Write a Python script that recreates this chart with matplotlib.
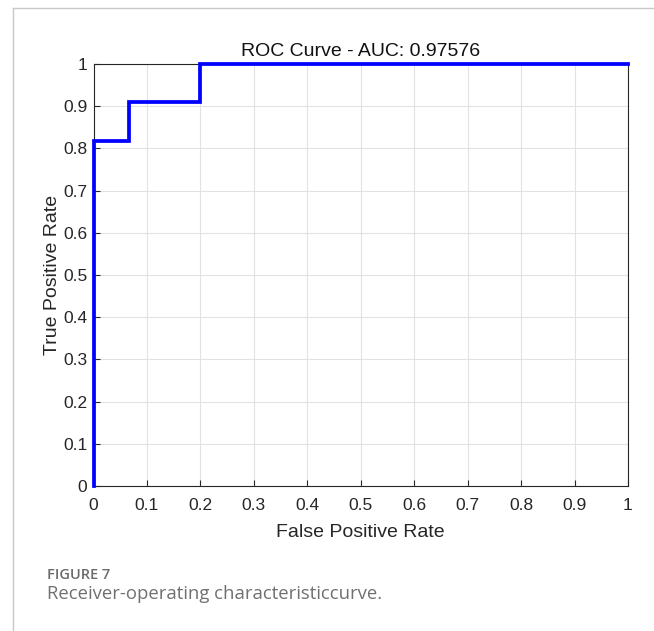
import numpy as np
import matplotlib
matplotlib.use("Agg")
import matplotlib.pyplot as plt
import matplotlib.lines as lines

# ROC curve points (step shape)
fpr = [0.0, 0.0, 0.0667, 0.0667, 0.2, 0.2, 1.0]
tpr = [0.0, 0.818, 0.818, 0.909, 0.909, 1.0, 1.0]
auc_label = "0.97576"
ticks = [0, 0.1, 0.2, 0.3, 0.4, 0.5, 0.6, 0.7, 0.8, 0.9, 1]
tick_labels = ["0", "0.1", "0.2", "0.3", "0.4", "0.5", "0.6", "0.7", "0.8", "0.9", "1"]

plt.rcParams["font.family"] = ["Liberation Sans", "DejaVu Sans"]

fig = plt.figure(figsize=(6.54, 6.31), dpi=100)
ax = fig.add_axes([0.1430, 0.2298, 0.8172, 0.6688])

ax.plot(fpr, tpr, color="#0000ff", linewidth=2.7, solid_joinstyle="miter", clip_on=False, zorder=3)

ax.set_xlim(0, 1)
ax.set_ylim(0, 1)
ax.set_xticks(ticks)
ax.set_xticklabels(tick_labels)
ax.set_yticks(ticks)
ax.set_yticklabels(tick_labels)
ax.tick_params(direction="in", length=4, width=0.8, colors="#262626", labelsize=12.5)
ax.tick_params(axis="x", pad=9)
ax.tick_params(axis="y", pad=4.5)
ax.grid(True, color="#e2e2e2", linewidth=0.8)
ax.set_axisbelow(True)
for s in ax.spines.values():
    s.set_color("#262626")
    s.set_linewidth(0.8)

ax.set_xlabel("False Positive Rate", fontsize=14, color="#262626", labelpad=7.5)
ax.set_ylabel("True Positive Rate", fontsize=14, color="#262626", labelpad=1.5)
ax.set_title("ROC Curve - AUC: " + auc_label, fontsize=14, color="#111111", pad=6)

# page frame lines
fig.add_artist(lines.Line2D([13/654, 1], [1 - 8/631, 1 - 8/631], color="#c8c8c8", linewidth=1))
fig.add_artist(lines.Line2D([13/654, 13/654], [0, 1 - 8/631], color="#c8c8c8", linewidth=1))

# caption
fig.text(47/654, 1 - 575/631, "FIGURE 7", fontsize=10.5, color="#6b6b6b",
         family=["Open Sans", "DejaVu Sans"], fontweight="semibold", va="center")
fig.text(47/654, 1 - 594/631, "Receiver-operating characteristiccurve.", fontsize=13.3,
         color="#707070", family=["Open Sans", "DejaVu Sans"], va="center")

fig.savefig("out.png", dpi=100)
